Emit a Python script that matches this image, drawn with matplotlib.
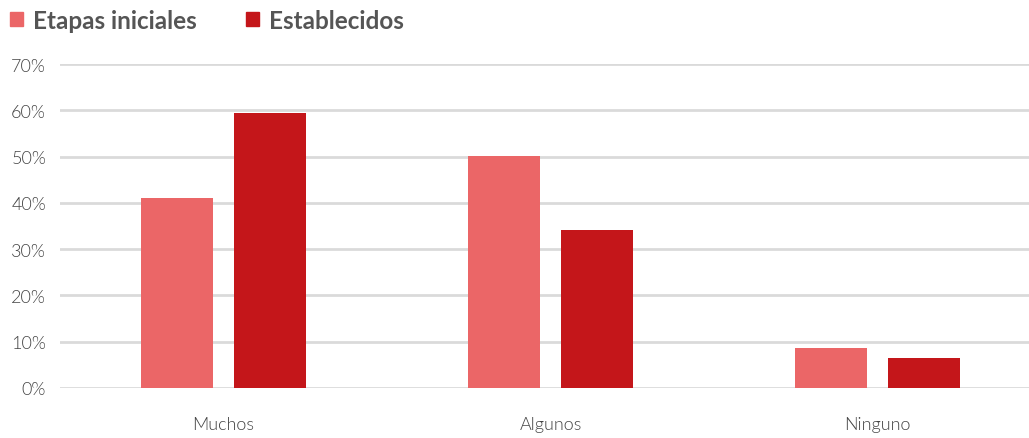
import numpy as np
import matplotlib.pyplot as plt
from matplotlib.patches import Patch

categorias = ["Muchos", "Algunos", "Ninguno"]
etapas_iniciales = [41.0, 50.2, 8.7]
establecidos = [59.5, 34.1, 6.5]
ticks_y = [0, 10, 20, 30, 40, 50, 60, 70]

plt.rcParams['font.family'] = ['Lato', 'DejaVu Sans']

fig = plt.figure(figsize=(10.29, 4.39), dpi=100)
ax = fig.add_axes([60 / 1029, (439 - 389) / 439, (1029 - 60) / 1029, (389 - 65) / 439])

x = np.arange(len(categorias))
ancho = 0.222
ax.bar(x - 0.142, etapas_iniciales, ancho, color='#EB6667', zorder=3)
ax.bar(x + 0.142, establecidos, ancho, color='#C4161A', zorder=3)

ax.set_ylim(0, 70)
ax.set_xlim(-0.5, (1029 - 60) / 327 - 0.5)
ax.set_yticks(ticks_y)
ax.set_yticklabels([f"{t}%" for t in ticks_y], fontweight=300)
ax.set_xticks(x)
ax.set_xticklabels(categorias, fontweight=300)
ax.tick_params(axis='both', length=0, labelsize=13, colors='#444444')
ax.tick_params(axis='y', pad=10)
ax.tick_params(axis='x', pad=20)
ax.yaxis.grid(True, color='#dadada', linewidth=2, zorder=0)
for s in ax.spines.values():
    s.set_visible(False)

# leyenda
handles = [Patch(color='#EB6667', label='Etapas iniciales'),
           Patch(color='#C4161A', label='Establecidos')]
leg = fig.legend(handles=handles, loc='upper left', bbox_to_anchor=(0.0, 1.0), ncol=2,
                 frameon=False, handlelength=0.53, handleheight=0.53, handletextpad=0.41,
                 columnspacing=2.05, borderaxespad=0.0, borderpad=0.4,
                 prop={'weight': 'bold', 'size': 17.5})
for t in leg.get_texts():
    t.set_color('#555555')

fig.savefig('out.png', dpi=100)
